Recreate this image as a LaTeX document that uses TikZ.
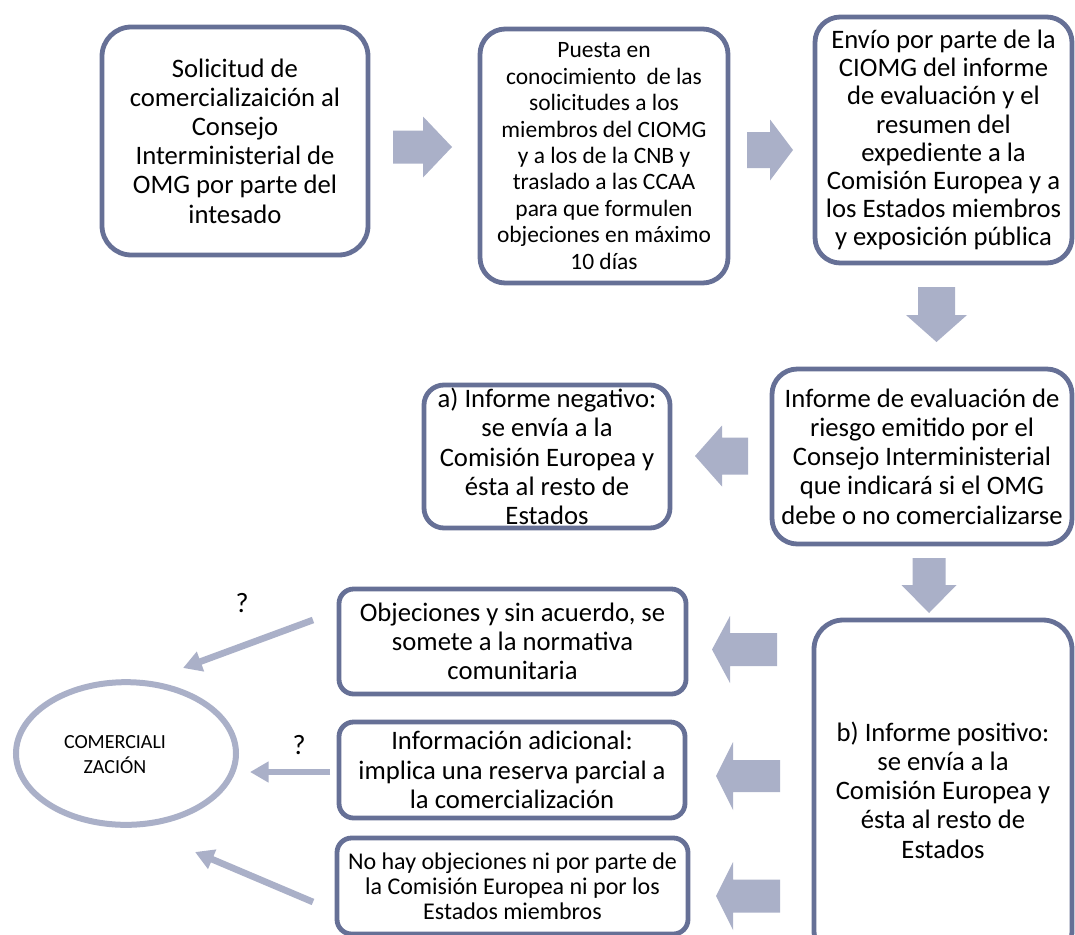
\documentclass[tikz,border=0pt]{standalone}
\usepackage{fontspec}
\setmainfont{Carlito}
\usetikzlibrary{arrows.meta,shapes.geometric,calc}
\definecolor{boxc}{RGB}{102,112,150}
\definecolor{arrc}{RGB}{170,176,200}
\tikzset{
  box/.style={draw=boxc, line width=3.6pt, fill=white, align=center, inner sep=0pt, text=black},
  big/.style={font=\fontsize{20}{21.9}\selectfont},
  bigtight/.style={font=\fontsize{20}{21.1}\selectfont},
  mid/.style={font=\fontsize{18}{18.75}\selectfont},
  small/.style={font=\fontsize{17.6}{19.8}\selectfont},
  thinarrow/.style={draw=arrc, line width=5pt, -{Triangle[length=14pt,width=15pt]}},
  pics/blockarrow/.style args={#1/#2/#3/#4}{code={
    \fill[arrc] (0,{-#4/2}) -- ({#1-#2},{-#4/2}) -- ({#1-#2},{-#3/2}) -- (#1,0)
      -- ({#1-#2},{#3/2}) -- ({#1-#2},{#4/2}) -- (0,{#4/2}) -- cycle;}}
}
\begin{document}
\begin{tikzpicture}[x=0.75pt,y=-0.75pt]
\fill[white] (0,0) rectangle (1075,935);
\useasboundingbox (0,0) rectangle (1075,935);

% boxes
\node[box, big, rounded corners=22pt, minimum width=199.5pt, minimum height=171pt] (b1) at (235,141)
  {Solicitud de\\comercializaición al\\Consejo\\Interministerial de\\OMG por parte del\\intesado};
\node[box, small, rounded corners=19pt, minimum width=186pt, minimum height=190.5pt] (b2) at (604,156)
  {Puesta en\\conocimiento\ \ de las\\solicitudes a los\\miembros del CIOMG\\y a los de la CNB y\\traslado a las CCAA\\para que formulen\\objeciones en máximo\\10 días};
\node[box, bigtight, rounded corners=19pt, minimum width=192.75pt, minimum height=184.5pt] (b3) at (943.5,140)
  {Envío por parte de la\\CIOMG del informe\\de evaluación y el\\resumen del\\expediente a la\\Comisión Europea y a\\los Estados miembros\\y exposición pública};
\node[box, big, rounded corners=19pt, minimum width=225pt, minimum height=131.25pt] (b4) at (922,456.5)
  {Informe de evaluación de\\riesgo emitido por el\\Consejo Interministerial\\que indicará si el OMG\\debe o no comercializarse};
\node[box, big, rounded corners=15pt, minimum width=184.5pt, minimum height=107.25pt] (b5) at (547,456.5)
  {a) Informe negativo:\\se envía a la\\Comisión Europea y\\ésta al resto de\\Estados};
\node[box, big, rounded corners=11pt, minimum width=260.25pt, minimum height=78.75pt] (b6) at (512.5,641.5)
  {Objeciones y sin acuerdo, se\\somete a la normativa\\comunitaria};
\node[box, big, rounded corners=11pt, minimum width=259.5pt, minimum height=72pt] (b7) at (512,770)
  {Información adicional:\\implica una reserva parcial a\\la comercialización};
\node[box, mid, rounded corners=11pt, minimum width=263.25pt, minimum height=72pt] (b8) at (512.5,886)
  {No hay objeciones ni por parte de\\la Comisión Europea ni por los\\Estados miembros};
\node[box, big, rounded corners=22pt, minimum width=193.5pt, minimum height=255pt] (b9) at (943,790)
  {b) Informe positivo:\\se envía a la\\Comisión Europea y\\ésta al resto de\\Estados};

% ellipse
\node[ellipse, draw=arrc, line width=4.5pt, minimum width=165pt, minimum height=107pt, inner sep=0pt] (com) at (126,753.5) {};
\node[align=center, inner sep=0pt, font=\fontsize{15}{18.75}\selectfont] (comtxt) at ($(com.center)+(-11,1)$) {COMERCIALI\\ZACIÓN};

% block arrows
\pic at (393,147) {blockarrow=59/29/61/33};
\pic at (747,150) {blockarrow=46/23/61/36};
\pic[rotate=-90] at (936.5,287) {blockarrow=55/27/61/37};
\pic[rotate=180] at (748,456) {blockarrow=53/27/61/37};
\pic[rotate=-90] at (929,558) {blockarrow=55/28/55/33};
\pic[rotate=180] at (777,649.5) {blockarrow=65/18/67/33};
\pic[rotate=180] at (780,776) {blockarrow=64/17/68/32};
\pic[rotate=180] at (780,896) {blockarrow=64/17/68/33};

% thin arrows to the ellipse
\coordinate (s1) at (313,620);
\coordinate (e1) at (183,668);
\coordinate (s2) at (330,772);
\coordinate (e2) at (250,772);
\coordinate (s3) at (313,902);
\coordinate (e3) at (195,852);
\draw[thinarrow] (s1) -- (e1);
\draw[thinarrow] (s2) -- (e2);
\draw[thinarrow] (s3) -- (e3);

\node[font=\fontsize{21}{24}\selectfont, inner sep=0pt] (q1) at (242,603) {?};
\node[font=\fontsize{21}{24}\selectfont, inner sep=0pt] (q2) at (299,745) {?};
\end{tikzpicture}
\end{document}
